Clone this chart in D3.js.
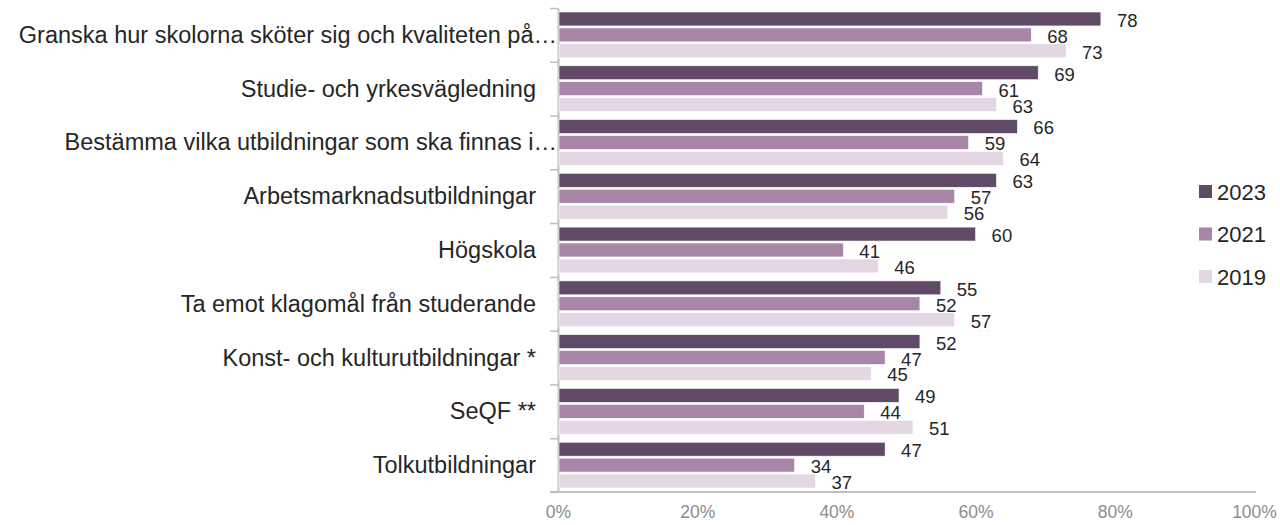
<!DOCTYPE html>
<html>
<head>
<meta charset="utf-8">
<script src="https://cdn.jsdelivr.net/npm/d3@7"></script>
<style>
  body { margin: 0; background: #fff; }
  svg { display: block; font-family: "Liberation Sans", Arial, sans-serif; }
</style>
</head>
<body>
<div class="chart"></div>
<script>
// categories, top to bottom
var categories = [
  "Granska hur skolorna sköter sig och kvaliteten på…",
  "Studie- och yrkesvägledning",
  "Bestämma vilka utbildningar som ska finnas i…",
  "Arbetsmarknadsutbildningar",
  "Högskola",
  "Ta emot klagomål från studerande",
  "Konst- och kulturutbildningar *",
  "SeQF **",
  "Tolkutbildningar"
];

// series names (legend order)
var seriesNames = ["2023", "2021", "2019"];

// values in percent
var values2023 = [78, 69, 66, 63, 60, 55, 52, 49, 47];
var values2021 = [68, 61, 59, 57, 41, 52, 47, 44, 34];
var values2019 = [73, 63, 64, 56, 46, 57, 45, 51, 37];

var xTicks = [0, 0.2, 0.4, 0.6, 0.8, 1];

var colors = { "2023": "#614a66", "2021": "#a886a8", "2019": "#e3d7e4" };

var seriesValues = { "2023": values2023, "2021": values2021, "2019": values2019 };

// build rows for the bars
var rows = [];
categories.forEach(function (c, i) {
  seriesNames.forEach(function (s) {
    rows.push({ cat: c, series: s, value: seriesValues[s][i] });
  });
});

var width = 1280, height = 525;
var plotLeft = 558, plotRight = 1254, plotTop = 8, plotBottom = 492;

var svg = d3.select(".chart").append("svg")
  .attr("width", width)
  .attr("height", height);

var x = d3.scaleLinear().domain([0, 1]).range([plotLeft, plotRight]);

var y = d3.scaleBand().domain(categories).range([plotTop, plotBottom]).padding(0);

// bars within a category band
var inner = d3.scaleBand().domain(seriesNames)
  .range([4, y.bandwidth() - 4])
  .paddingInner(0.125).paddingOuter(0);

// bottom axis
var xAxis = svg.append("g")
  .attr("transform", "translate(0," + plotBottom + ")")
  .call(d3.axisBottom(x).tickValues(xTicks).tickSize(0).tickPadding(14)
    .tickFormat(d3.format(".0%")));
xAxis.select(".domain").attr("stroke", "#bfbfbf").attr("stroke-width", 2)
  .attr("d", "M" + (plotLeft - 8) + ",0H" + (plotRight + 2));
xAxis.selectAll("text").attr("fill", "#8c8c8c").style("font-size", "17.5px")
  .attr("font-family", null);

// left axis: ticks at category boundaries
var yIdx = d3.scaleLinear().domain([0, categories.length]).range([plotTop, plotBottom]);
var yAxis = svg.append("g")
  .attr("transform", "translate(" + plotLeft + ",0)")
  .call(d3.axisLeft(yIdx).tickValues(d3.range(categories.length + 1))
    .tickSize(8).tickSizeOuter(0).tickFormat(""));
yAxis.select(".domain").attr("stroke", "#bfbfbf").attr("stroke-width", 2);
yAxis.selectAll(".tick line").attr("stroke", "#bfbfbf").attr("stroke-width", 1.5);

// category labels
var catLabels = svg.append("g").selectAll("text")
  .data(categories)
  .enter()
  .append("text")
  .attr("x", plotLeft - 22)
  .attr("y", function (d) { return y(d) + y.bandwidth() / 2 + 8; })
  .attr("text-anchor", "end")
  .attr("fill", "#262626")
  .style("font-size", "23.5px")
  .text(function (d) { return d; });

// truncated labels run up to the axis
catLabels.each(function (d) {
  if (d.slice(-1) === "…") d3.select(this).attr("x", plotLeft - 1);
});

// bars
svg.append("g").selectAll("rect")
  .data(rows)
  .enter()
  .append("rect")
  .attr("x", x(0) + 1)
  .attr("y", function (d) { return y(d.cat) + inner(d.series); })
  .attr("width", function (d) { return x(d.value / 100) - x(0) - 1; })
  .attr("height", inner.bandwidth())
  .attr("fill", function (d) { return colors[d.series]; })
  .attr("stroke", "#ffffff")
  .attr("stroke-width", 0.6);

// value labels
svg.append("g").selectAll("text")
  .data(rows)
  .enter()
  .append("text")
  .attr("x", function (d) { return x(d.value / 100) + 16; })
  .attr("y", function (d) { return y(d.cat) + inner(d.series) + inner.bandwidth() + 1; })
  .attr("fill", "#262626")
  .style("font-size", "18.5px")
  .text(function (d) { return d.value; });

// legend
var legend = svg.append("g").selectAll("g")
  .data(seriesNames)
  .enter()
  .append("g")
  .attr("transform", function (d, i) { return "translate(1199," + (185 + i * 42.5) + ")"; });

legend.append("rect")
  .attr("width", 13)
  .attr("height", 13)
  .attr("fill", function (d) { return colors[d]; });

legend.append("text")
  .attr("x", 18)
  .attr("y", 14.5)
  .attr("fill", "#262626")
  .style("font-size", "22px")
  .text(function (d) { return d; });
</script>
</body>
</html>
